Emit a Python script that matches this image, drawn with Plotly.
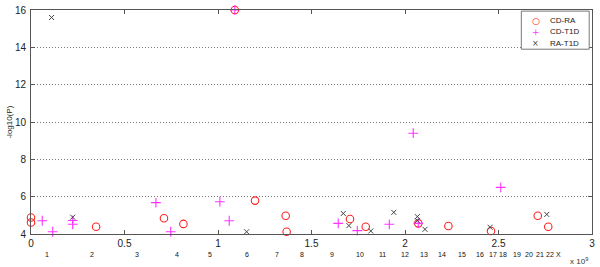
import plotly.graph_objects as go

# Data (genomic position in units of 1e9, -log10(P))
cdra_x = [0.0, 0.0, 0.348, 0.711, 0.815, 1.09, 1.198, 1.362, 1.367, 1.706, 1.79, 2.071, 2.232, 2.46, 2.71, 2.766]
cdra_y = [4.88, 4.62, 4.39, 4.84, 4.54, 16.0, 5.79, 4.98, 4.12, 4.80, 4.39, 4.57, 4.43, 4.16, 4.98, 4.39]

cdt1d_x = [0.06, 0.116, 0.223, 0.223, 0.668, 0.747, 1.01, 1.06, 1.09, 1.643, 1.745, 1.916, 2.044, 2.071, 2.512]
cdt1d_y = [4.71, 4.12, 4.72, 4.52, 5.68, 4.12, 5.73, 4.71, 16.0, 4.57, 4.18, 4.52, 9.4, 4.57, 6.5]

rat1d_x = [0.11, 0.223, 1.153, 1.67, 1.70, 1.817, 1.94, 2.066, 2.066, 2.107, 2.455, 2.758]
rat1d_y = [15.6, 4.9, 4.12, 5.1, 4.45, 4.16, 5.16, 4.93, 4.72, 4.25, 4.36, 5.05]

chrom_labels = ["1", "2", "3", "4", "5", "6", "7", "8", "9", "10", "11", "12",
                "13", "14", "15", "16", "17", "18", "19", "20", "21", "22", "X"]
chrom_pos = [0.084, 0.326, 0.567, 0.781, 0.957, 1.155, 1.316, 1.449, 1.61, 1.76, 1.88, 2.0,
             2.10, 2.20, 2.305, 2.40, 2.47, 2.524, 2.60, 2.663, 2.72, 2.775, 2.82]

x_ticks = [0, 0.5, 1, 1.5, 2, 2.5, 3]
x_tick_text = ["0", "0.5", "1", "1.5", "2", "2.5", "3"]
y_ticks = [4, 6, 8, 10, 12, 14, 16]

series_names = ["CD-RA", "CD-T1D", "RA-T1D"]
series_colors = ["#ff2020", "#ff33ff", "#444444"]
legend_glyphs = ["○", "+", "×"]

font_fam = "Liberation Sans, Arial, sans-serif"

fig = go.Figure()
fig.add_trace(go.Scatter(x=cdra_x, y=cdra_y, mode="markers", name=series_names[0],
                         cliponaxis=False,
                         marker=dict(symbol="circle-open", size=7.5, color=series_colors[0],
                                     line=dict(width=1.1, color=series_colors[0]))))
fig.add_trace(go.Scatter(x=cdt1d_x, y=cdt1d_y, mode="markers", name=series_names[1],
                         cliponaxis=False,
                         marker=dict(symbol="cross-thin-open", size=7, color=series_colors[1],
                                     line=dict(width=1.1, color=series_colors[1]))))
fig.add_trace(go.Scatter(x=rat1d_x, y=rat1d_y, mode="markers", name=series_names[2],
                         cliponaxis=False,
                         marker=dict(symbol="x-thin-open", size=5, color=series_colors[2],
                                     line=dict(width=1, color=series_colors[2]))))

# chromosome labels
for lab, pos in zip(chrom_labels, chrom_pos):
    fig.add_annotation(x=pos, y=-0.07, xref="x", yref="paper", text=lab,
                       showarrow=False, yanchor="top", borderpad=0,
                       font=dict(size=7, color="#111111", family=font_fam))

fig.add_annotation(x=0.995, y=-0.095, xref="paper", yref="paper",
                   text="x 10<sup>9</sup>", showarrow=False, yanchor="top", xanchor="right",
                   borderpad=0, font=dict(size=8, color="#333333", family=font_fam))

# y axis title
fig.add_annotation(x=-0.04, y=0.5, xref="paper", yref="paper", text="-log10(P)",
                   textangle=-90, showarrow=False, xanchor="center", yanchor="middle",
                   font=dict(size=8, color="#222222", family=font_fam))

# manual compact legend (MATLAB style)
fig.add_shape(type="rect", xref="paper", yref="paper", x0=0.874, x1=0.995, y0=0.825, y1=0.995,
              line=dict(color="#777777", width=1), fillcolor="white", layer="above")
for i, (nm, col, gl) in enumerate(zip(series_names, series_colors, legend_glyphs)):
    yy = 0.952 - i * 0.05
    fig.add_annotation(x=0.9, y=yy, xref="paper", yref="paper", text=gl,
                       showarrow=False, xanchor="center", yanchor="middle",
                       font=dict(size=9 if i != 2 else 8, color=col, family="DejaVu Sans"))
    fig.add_annotation(x=0.922, y=yy, xref="paper", yref="paper", text=nm,
                       showarrow=False, xanchor="left", yanchor="middle",
                       font=dict(size=8, color="#222222", family=font_fam))

axis_common = dict(showline=True, linecolor="#555555", linewidth=1, mirror="allticks",
                   ticks="inside", ticklen=4, tickcolor="#555555", zeroline=False,
                   automargin=False,
                   tickfont=dict(size=10, color="#222222", family=font_fam))

fig.update_xaxes(range=[0, 3], tickvals=x_ticks, ticktext=x_tick_text, showgrid=False,
                 ticklabelstandoff=0, **axis_common)
fig.update_yaxes(range=[4, 16], tickvals=y_ticks, showgrid=True, gridcolor="#777777",
                 griddash="1px,2px", gridwidth=1, ticklabelstandoff=2,
                 **axis_common)

fig.update_layout(
    width=600, height=267,
    margin=dict(l=31, r=8, t=10, b=33),
    paper_bgcolor="white", plot_bgcolor="white",
    showlegend=False,
)

fig.write_html("out.html", config={"displayModeBar": False},
               post_script="document.body.style.margin='0px';document.body.style.overflow='hidden';")
